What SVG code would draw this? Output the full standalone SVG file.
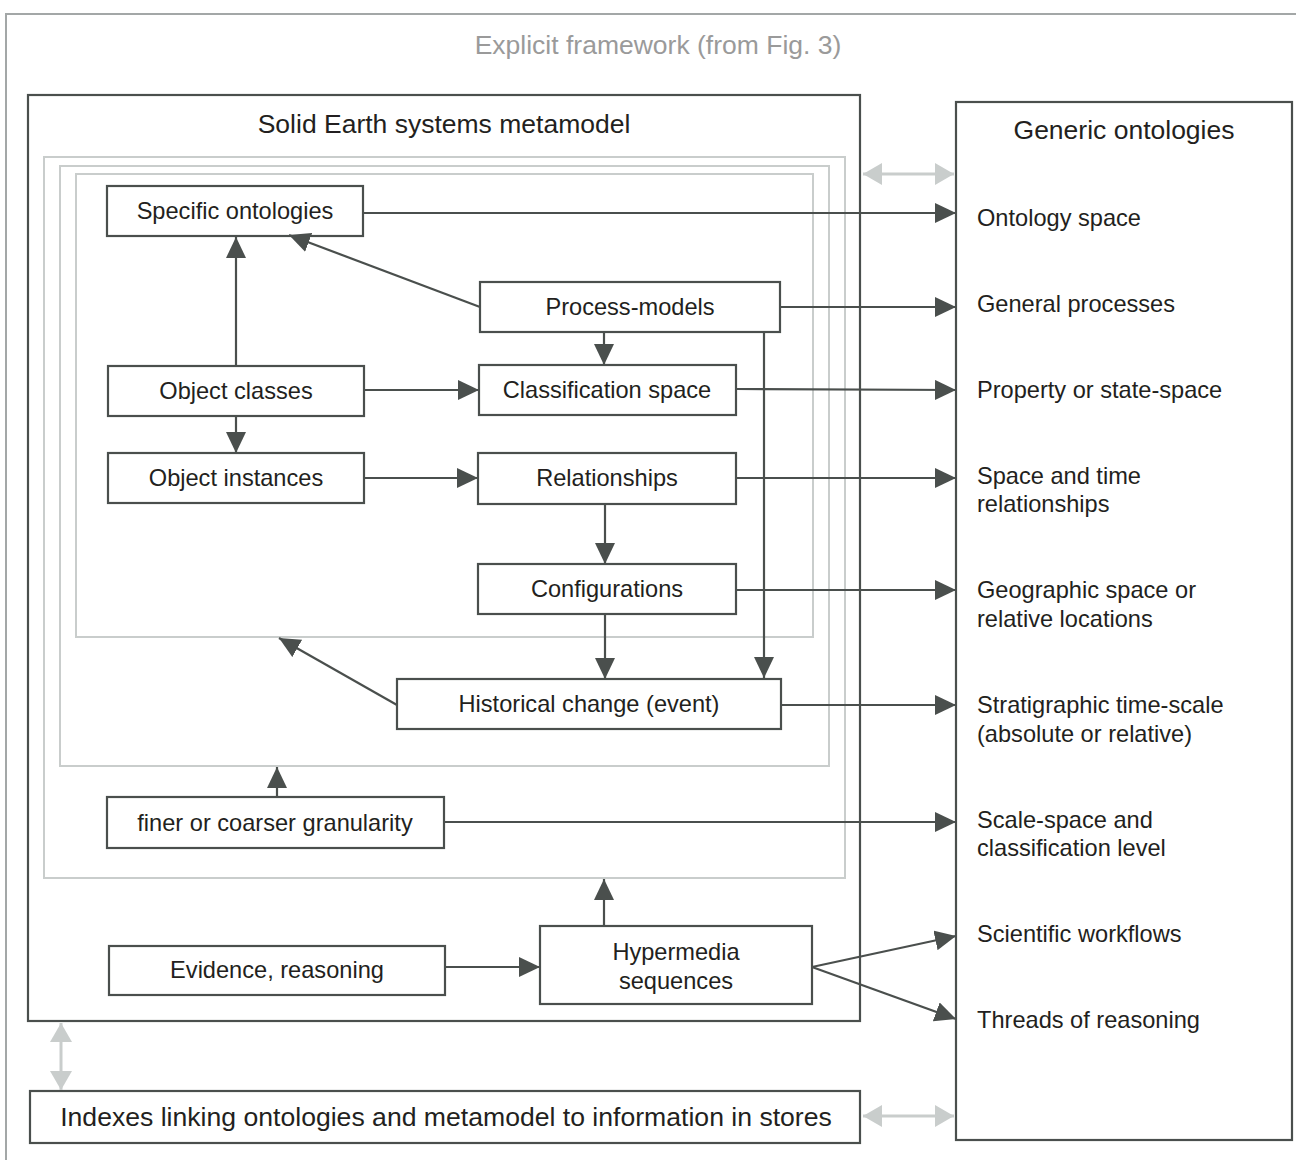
<svg xmlns="http://www.w3.org/2000/svg" width="1296" height="1160" viewBox="0 0 1296 1160">
<style>
.box{fill:#fff;stroke:#4a4f4d;stroke-width:2.2}
.frame{fill:none;stroke:#4a4f4d;stroke-width:2.2}
.gray{fill:none;stroke:#c9cdcc;stroke-width:2}
.t{font-family:"Liberation Sans",Arial,sans-serif;font-size:23.6px;fill:#231f20}
.tc{text-anchor:middle}
.title{font-family:"Liberation Sans",Arial,sans-serif;font-size:26.5px;fill:#231f20;text-anchor:middle}
.c{stroke:#4a4f4d;stroke-width:2.2;fill:none;marker-end:url(#ah)}
.g{stroke:#c9cdcc;stroke-width:3;fill:none;marker-start:url(#gh);marker-end:url(#gh)}
</style>
<defs>
<marker id="ah" markerUnits="userSpaceOnUse" markerWidth="22" markerHeight="20" refX="21" refY="10" orient="auto"><path d="M0,0 L21,10 L0,20 z" fill="#4a4f4d"/></marker>
<marker id="gh" markerUnits="userSpaceOnUse" markerWidth="20" markerHeight="22" refX="19" refY="11" orient="auto-start-reverse"><path d="M0,0 L19,11 L0,22 z" fill="#c9cdcc"/></marker>
</defs>
<rect x="0" y="0" width="1296" height="1160" fill="#fff"/>
<rect x="6" y="14" width="1310" height="1170" fill="none" stroke="#a3a7a7" stroke-width="2"/>
<text class="title" x="658" y="54" style="fill:#9a9a9a">Explicit framework (from Fig. 3)</text>

<g id="metamodel">
<rect class="frame" x="28" y="95" width="832" height="926"/>
<text class="title" x="444" y="133">Solid Earth systems metamodel</text>
<rect class="gray" x="44" y="157" width="801" height="721"/>
<rect class="gray" x="60" y="166" width="769" height="600"/>
<rect class="gray" x="76" y="174" width="737" height="463"/>
</g>

<g id="generic">
<rect class="frame" x="956" y="102" width="336" height="1038"/>
<text class="title" x="1124" y="139">Generic ontologies</text>
<text class="t" x="977" y="226">Ontology space</text>
<text class="t" x="977" y="312">General processes</text>
<text class="t" x="977" y="398">Property or state-space</text>
<text class="t" x="977" y="484">Space and time</text>
<text class="t" x="977" y="512">relationships</text>
<text class="t" x="977" y="598">Geographic space or</text>
<text class="t" x="977" y="627">relative locations</text>
<text class="t" x="977" y="713">Stratigraphic time-scale</text>
<text class="t" x="977" y="742">(absolute or relative)</text>
<text class="t" x="977" y="828">Scale-space and</text>
<text class="t" x="977" y="856">classification level</text>
<text class="t" x="977" y="942">Scientific workflows</text>
<text class="t" x="977" y="1028">Threads of reasoning</text>
</g>

<g id="indexes">
<rect class="frame" x="30" y="1091" width="830" height="52"/>
<text class="title" x="446" y="1126" style="font-size:26.6px">Indexes linking ontologies and metamodel to information in stores</text>
</g>

<g id="specific-ontologies"><rect class="box" x="107" y="186" width="256" height="50"/><text class="t tc" x="235" y="219">Specific ontologies</text></g>
<g id="object-classes"><rect class="box" x="108" y="366" width="256" height="50"/><text class="t tc" x="236" y="399">Object classes</text></g>
<g id="object-instances"><rect class="box" x="108" y="453" width="256" height="50"/><text class="t tc" x="236" y="486">Object instances</text></g>
<g id="process-models"><rect class="box" x="480" y="282" width="300" height="50"/><text class="t tc" x="630" y="315">Process-models</text></g>
<g id="classification-space"><rect class="box" x="479" y="365" width="257" height="50"/><text class="t tc" x="607" y="398">Classification space</text></g>
<g id="relationships"><rect class="box" x="478" y="453" width="258" height="51"/><text class="t tc" x="607" y="486">Relationships</text></g>
<g id="configurations"><rect class="box" x="478" y="564" width="258" height="50"/><text class="t tc" x="607" y="597">Configurations</text></g>
<g id="historical-change"><rect class="box" x="397" y="679" width="384" height="50"/><text class="t tc" x="589" y="712">Historical change (event)</text></g>
<g id="granularity"><rect class="box" x="107" y="797" width="337" height="51"/><text class="t tc" x="275" y="831">finer or coarser granularity</text></g>
<g id="evidence"><rect class="box" x="109" y="946" width="336" height="49"/><text class="t tc" x="277" y="978">Evidence, reasoning</text></g>
<g id="hypermedia"><rect class="box" x="540" y="926" width="272" height="78"/><text class="t tc" x="676" y="960">Hypermedia</text><text class="t tc" x="676" y="989">sequences</text></g>

<g id="connectors">
<line class="c" x1="236" y1="366" x2="236" y2="237"/>
<line class="c" x1="480" y1="307" x2="289" y2="235"/>
<line class="c" x1="604" y1="332" x2="604" y2="365"/>
<line class="c" x1="364" y1="390" x2="479" y2="390"/>
<line class="c" x1="236" y1="416" x2="236" y2="453"/>
<line class="c" x1="364" y1="478" x2="478" y2="478"/>
<line class="c" x1="605" y1="504" x2="605" y2="564"/>
<line class="c" x1="605" y1="614" x2="605" y2="679"/>
<line class="c" x1="764" y1="332" x2="764" y2="678"/>
<line class="c" x1="397" y1="705" x2="279" y2="638"/>
<line class="c" x1="277" y1="797" x2="277" y2="767"/>
<line class="c" x1="604" y1="926" x2="604" y2="879"/>
<line class="c" x1="445" y1="967" x2="540" y2="967"/>
<line class="c" x1="363" y1="213" x2="956" y2="213"/>
<line class="c" x1="780" y1="307" x2="956" y2="307"/>
<line class="c" x1="736" y1="389" x2="956" y2="390"/>
<line class="c" x1="736" y1="478" x2="956" y2="478"/>
<line class="c" x1="736" y1="590" x2="956" y2="590"/>
<line class="c" x1="781" y1="705" x2="956" y2="705"/>
<line class="c" x1="444" y1="822" x2="956" y2="822"/>
<line class="c" x1="812" y1="967" x2="956" y2="936"/>
<line class="c" x1="812" y1="967" x2="956" y2="1019"/>
<line class="g" x1="863" y1="174" x2="954" y2="174"/>
<line class="g" x1="61" y1="1023" x2="61" y2="1090"/>
<line class="g" x1="863" y1="1116" x2="954" y2="1116"/>
</g>
</svg>
